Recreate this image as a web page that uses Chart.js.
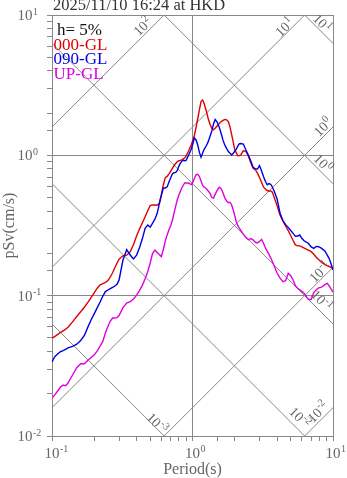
<!DOCTYPE html>
<html>
<head>
<meta charset="utf-8">
<script src="https://cdn.jsdelivr.net/npm/chart.js@4/dist/chart.umd.min.js"></script>
<style>
  html, body { margin: 0; padding: 0; background: #fff; }
  #wrap { width: 347px; height: 478px; position: relative; }
</style>
</head>
<body>
<div id="wrap"><canvas id="c"></canvas></div>
<script>
// Natural period (s)
const periods = [0.10,0.105,0.11,0.115,0.12,0.125,0.13,0.14,0.15,0.16,0.17,0.18,0.19,0.20,0.21,0.22,0.23,0.24,0.25,0.26,
  0.27,0.28,0.29,0.30,0.32,0.34,0.36,0.38,0.40,0.42,0.44,0.46,0.48,0.50,0.52,0.54,0.56,0.58,0.60,0.62,
  0.64,0.66,0.68,0.70,0.72,0.74,0.76,0.78,0.80,0.82,0.84,0.86,0.88,0.90,0.92,0.94,0.96,0.98,1.00,1.03,
  1.06,1.09,1.12,1.15,1.18,1.21,1.25,1.29,1.33,1.37,1.41,1.45,1.50,1.55,1.60,1.65,1.70,1.75,1.80,1.85,
  1.90,1.95,2.00,2.05,2.10,2.15,2.20,2.30,2.40,2.50,2.60,2.70,2.80,2.90,3.00,3.10,3.20,3.30,3.40,3.50,
  3.60,3.70,3.80,3.90,4.00,4.20,4.40,4.60,4.80,5.00,5.20,5.40,5.60,5.80,6.00,6.20,6.40,6.60,6.80,7.00,
  7.30,7.60,7.90,8.20,8.50,8.80,9.10,9.40,9.70,10.0];

// Pseudo velocity response, h = 5% (cm/s)
const sv000 = [0.0499,0.0513,0.0530,0.0547,0.0562,0.0577,0.0596,0.0651,0.0711,0.0768,0.0827,0.0895,0.0972,0.1053,0.1130,0.1195,0.1217,0.1241,0.1282,0.1359,
  0.1455,0.1579,0.1704,0.1819,0.1923,0.1943,0.2051,0.2304,0.2661,0.2994,0.331,0.365,0.403,0.4376,0.443,0.443,0.4415,0.4548,0.5246,0.615,
  0.6937,0.7075,0.7385,0.7732,0.8096,0.846,0.8743,0.9034,0.9154,0.9214,0.9276,0.943,0.957,0.9928,1.031,1.0785,1.1354,1.191,1.2588,1.380,
  1.584,1.830,2.121,2.419,2.484,2.337,2.097,1.845,1.672,1.566,1.523,1.559,1.625,1.683,1.739,1.775,1.801,1.791,1.739,1.586,
  1.405,1.244,1.091,1.040,0.993,0.998,1.004,1.077,1.066,0.985,0.886,0.8096,0.790,0.7458,0.696,0.6428,0.595,0.5745,0.5613,0.5568,
  0.5568,0.5468,0.5068,0.4716,0.4365,0.3748,0.3404,0.3138,0.2911,0.2683,0.2474,0.230,0.2262,0.2262,0.2225,0.2189,0.2155,0.2121,0.209,0.2059,
  0.1973,0.1877,0.1807,0.1745,0.1701,0.1665,0.1636,0.1614,0.1593,0.1574];

const sv090 = [0.0337,0.0369,0.0386,0.0399,0.0406,0.0415,0.0424,0.0435,0.0451,0.0479,0.0521,0.0597,0.0673,0.0745,0.0822,0.0902,0.0994,0.1070,0.1097,0.1123,
  0.1147,0.1172,0.1207,0.1289,0.1794,0.2128,0.1949,0.1825,0.1946,0.2207,0.2552,0.3023,0.319,0.3077,0.3286,0.3506,0.3848,0.4496,0.516,0.585,
  0.585,0.596,0.6465,0.6927,0.7397,0.7515,0.7561,0.7808,0.8377,0.880,0.9078,0.923,0.9154,0.920,0.9633,1.006,1.057,1.1056,1.185,1.329,
  1.288,1.185,1.050,0.9694,1.036,1.1037,1.1656,1.242,1.357,1.483,1.667,1.800,1.7215,1.5865,1.431,1.2776,1.181,1.1164,1.0626,1.036,
  1.0077,1.0354,1.0688,1.109,1.1618,1.2068,1.2136,1.2028,1.091,1.0027,0.911,0.8227,0.8005,0.799,0.846,0.777,0.7063,0.6534,0.617,0.6294,
  0.6222,0.595,0.5591,0.5242,0.489,0.387,0.3431,0.3206,0.3066,0.2916,0.2778,0.2648,0.266,0.2705,0.2565,0.247,0.2421,0.2384,0.2308,0.2226,
  0.2173,0.2244,0.2233,0.2191,0.213,0.2068,0.1946,0.1837,0.1681,0.1524];

const svUP = [0.01866,0.0197,0.0210,0.02235,0.02304,0.0228,0.02387,0.0272,0.03064,0.0327,0.0327,0.03463,0.03628,0.03786,0.04046,0.04363,0.0472,0.05442,0.0603,0.0659,
  0.0693,0.0693,0.0698,0.0721,0.0822,0.0887,0.0905,0.0946,0.1009,0.1090,0.1189,0.1320,0.1482,0.1709,0.2001,0.2109,0.2034,0.1962,0.1899,0.2134,
  0.2449,0.271,0.2952,0.3164,0.346,0.3905,0.4358,0.4842,0.522,0.5545,0.5873,0.612,0.6356,0.6356,0.6356,0.6356,0.6263,0.618,0.6346,0.6804,
  0.7288,0.7324,0.7052,0.6572,0.611,0.5946,0.5802,0.5595,0.5377,0.5018,0.4939,0.5272,0.5641,0.5921,0.5792,0.5386,0.4954,0.4731,0.4594,0.4632,
  0.443,0.408,0.3699,0.3348,0.3164,0.3036,0.2930,0.2744,0.2597,0.2502,0.2552,0.2502,0.2401,0.2374,0.2437,0.2519,0.2366,0.2193,0.2078,0.1969,
  0.1861,0.1754,0.1647,0.1543,0.1451,0.1333,0.1257,0.1278,0.1444,0.1386,0.1293,0.1176,0.1128,0.1100,0.1072,0.1046,0.0999,0.0953,0.0939,0.0943,
  0.1053,0.1103,0.1137,0.1147,0.1170,0.1203,0.1223,0.1172,0.1115,0.1061];

const seriesNames = ['000-GL', '090-GL', 'UP-GL'];
const seriesColors = ['#e00000', '#0000e0', '#e000e0'];

// Tripartite guide levels: pseudo acceleration (cm/s^2) and displacement (cm)
const accelLevels = [1e-2, 1e-1, 1e0, 1e1, 1e2];
const dispLevels = [1e-3, 1e-2, 1e-1, 1e0, 1e1];
// Where each guide label sits: level, period along the line, offset from the line (px)
const accelLabels = [[1e2, 0.48, 7], [1e1, 4.82, 5.5], [1e0, 9.21, 7], [1e-1, 8.65, 6], [1e-2, 8.53, 7.5]];
const dispLabels = [[1e1, 7.75, 6.5], [1e0, 7.80, 7.3], [1e-1, 7.52, 8.5], [1e-2, 5.19, 9.5], [1e-3, 0.534, 4]];

const xDecades = [-1, 0, 1];
const yDecades = [-2, -1, 0, 1];

const titleText = '2025/11/10 16:24 at HKD';
const dampingText = 'h= 5%';
const xTitle = 'Period(s)';
const yTitle = 'pSv(cm/s)';

const SERIF = '"Liberation Serif", "Times New Roman", serif';
const GREY = '#888888';
const LABEL_GREY = '#666666';
const TWO_PI = 2 * Math.PI;
const Tmin = 0.1, Tmax = 10;

const datasets = [];
[sv000, sv090, svUP].forEach((vals, i) => {
  datasets.push({
    label: seriesNames[i],
    data: periods.map((t, k) => ({ x: t, y: vals[k] })),
    borderColor: seriesColors[i],
    borderWidth: 1.4,
    pointRadius: 0,
    tension: 0,
    order: 2 - i
  });
});
accelLevels.forEach(a => {
  datasets.push({
    data: [{ x: Tmin, y: a * Tmin / TWO_PI }, { x: Tmax, y: a * Tmax / TWO_PI }],
    borderColor: GREY, borderWidth: 1, pointRadius: 0, order: 10
  });
});
dispLevels.forEach(d => {
  datasets.push({
    data: [{ x: Tmin, y: TWO_PI * d / Tmin }, { x: Tmax, y: TWO_PI * d / Tmax }],
    borderColor: GREY, borderWidth: 1, pointRadius: 0, order: 10
  });
});

const isDecade = v => Math.abs(Math.log10(v) - Math.round(Math.log10(v))) < 1e-6;

function drawPow(ctx, x, y, exp, base, sup, rise) {
  ctx.font = base + 'px ' + SERIF;
  ctx.fillText('10', x, y);
  const w = ctx.measureText('10').width;
  ctx.font = sup + 'px ' + SERIF;
  ctx.fillText(String(exp), x + w + 0.5, y - rise);
  return w;
}
function powWidth(ctx, exp, base, sup) {
  ctx.font = base + 'px ' + SERIF;
  const w = ctx.measureText('10').width;
  ctx.font = sup + 'px ' + SERIF;
  return w + 0.5 + ctx.measureText(String(exp)).width;
}

const decorations = {
  id: 'decorations',
  afterDatasetsDraw(chart) {
    const ctx = chart.ctx;
    const xs = chart.scales.x, ys = chart.scales.y;
    ctx.save();
    ctx.textAlign = 'left';
    ctx.textBaseline = 'alphabetic';

    // guide line labels
    ctx.fillStyle = LABEL_GREY;
    const place = (t, sv, off, nx, ny, ang, exp) => {
      const px = xs.getPixelForValue(t) + nx * off;
      const py = ys.getPixelForValue(sv) + ny * off;
      ctx.save();
      ctx.translate(px, py);
      ctx.rotate(ang);
      const w = powWidth(ctx, exp, 14, 10.5);
      drawPow(ctx, -w / 2, 4.5, exp, 14, 10.5, 5.5);
      ctx.restore();
    };
    accelLabels.forEach(([a, t, off]) => {
      const x1 = xs.getPixelForValue(Tmin), y1 = ys.getPixelForValue(a * Tmin / TWO_PI);
      const x2 = xs.getPixelForValue(Tmax), y2 = ys.getPixelForValue(a * Tmax / TWO_PI);
      const ang = Math.atan2(y2 - y1, x2 - x1);
      place(t, a * t / TWO_PI, off, -Math.SQRT1_2, -Math.SQRT1_2, ang, Math.round(Math.log10(a)));
    });
    dispLabels.forEach(([d, t, off]) => {
      const x1 = xs.getPixelForValue(Tmin), y1 = ys.getPixelForValue(TWO_PI * d / Tmin);
      const x2 = xs.getPixelForValue(Tmax), y2 = ys.getPixelForValue(TWO_PI * d / Tmax);
      const ang = Math.atan2(y2 - y1, x2 - x1);
      place(t, TWO_PI * d / t, off, Math.SQRT1_2, -Math.SQRT1_2, ang, Math.round(Math.log10(d)));
    });
    ctx.restore();
  },
  afterDraw(chart) {
    const ctx = chart.ctx;
    const xs = chart.scales.x, ys = chart.scales.y;
    const area = chart.chartArea;
    ctx.save();
    ctx.textBaseline = 'alphabetic';
    ctx.textAlign = 'left';

    // axis tick labels
    ctx.fillStyle = LABEL_GREY;
    yDecades.forEach(e => {
      const py = ys.getPixelForValue(Math.pow(10, e));
      drawPow(ctx, 17.5, py + 5, e, 15, 10, 5.5);
    });
    xDecades.forEach(e => {
      const px = xs.getPixelForValue(Math.pow(10, e));
      ctx.font = '15px ' + SERIF;
      const w = ctx.measureText('10').width;
      drawPow(ctx, px - w / 2, area.bottom + 22, e, 15, 10, 6);
    });

    // axis titles
    ctx.font = '16px ' + SERIF;
    ctx.textAlign = 'center';
    ctx.fillText(xTitle, (area.left + area.right) / 2, area.bottom + 38);
    ctx.save();
    ctx.translate(14, (area.top + area.bottom) / 2);
    ctx.rotate(-Math.PI / 2);
    ctx.fillText(yTitle, 0, 0);
    ctx.restore();

    // heading
    ctx.textAlign = 'left';
    ctx.fillStyle = '#333';
    ctx.font = '16.5px ' + SERIF;
    ctx.fillText(titleText, area.left + 1, 10);

    // damping and component key
    ctx.font = '17px ' + SERIF;
    ctx.fillStyle = '#111';
    ctx.fillText(dampingText, area.left + 5, area.top + 20);
    seriesNames.forEach((n, i) => {
      ctx.fillStyle = seriesColors[i];
      ctx.fillText(n, area.left + 1.5, area.top + 34.5 + i * 14.6);
    });
    ctx.restore();
  }
};

new Chart(document.getElementById('c'), {
  type: 'line',
  data: { datasets },
  options: {
    responsive: true,
    maintainAspectRatio: false,
    animation: false,
    events: [],
    layout: { padding: { top: 15, right: 14, left: 0, bottom: 0 } },
    plugins: { legend: { display: false }, tooltip: { enabled: false }, title: { display: false } },
    scales: {
      x: {
        type: 'logarithmic', min: Tmin, max: Tmax, position: 'bottom',
        ticks: { display: false, autoSkip: false },
        grid: {
          color: c => (c.tick && isDecade(c.tick.value)) ? GREY : 'rgba(0,0,0,0)',
          tickColor: GREY, tickLength: 5, drawTicks: true, lineWidth: 1
        },
        border: { display: true, color: GREY, width: 1 },
        afterFit: s => { s.height = 42; }
      },
      y: {
        type: 'logarithmic', min: 0.01, max: 10, position: 'left',
        ticks: { display: false, autoSkip: false },
        grid: {
          color: c => (c.tick && isDecade(c.tick.value)) ? GREY : 'rgba(0,0,0,0)',
          tickColor: GREY, tickLength: 5, drawTicks: true, lineWidth: 1
        },
        border: { display: true, color: GREY, width: 1 },
        afterFit: s => { s.width = 52; }
      }
    }
  },
  plugins: [decorations]
});
</script>
</body>
</html>
